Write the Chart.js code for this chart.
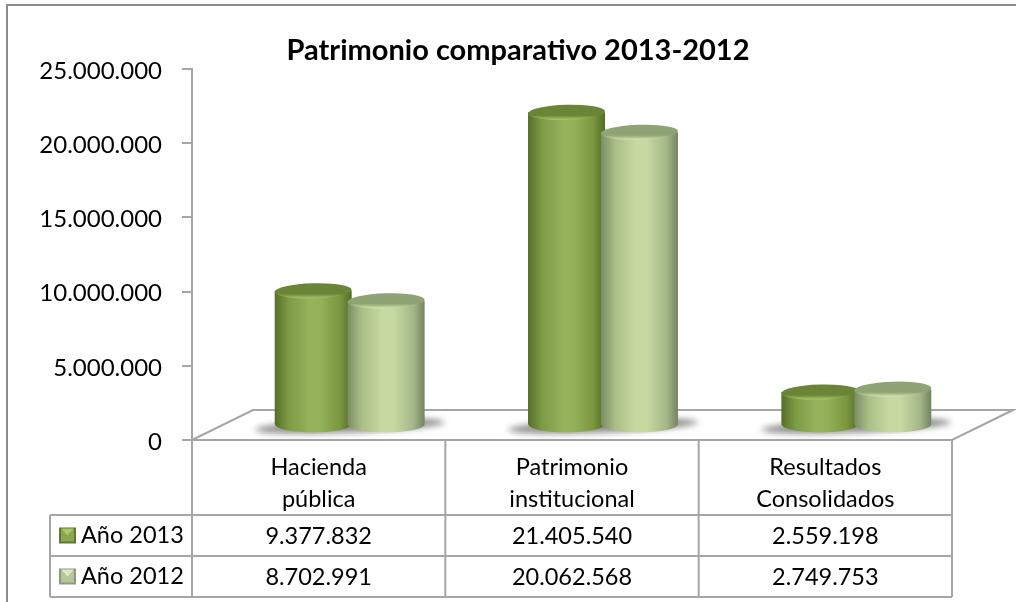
<!DOCTYPE html>
<html><head><meta charset="utf-8">
<style>html,body{margin:0;padding:0;background:#fff}#w{width:1016px;height:602px}canvas{display:block}</style>
<script src="https://cdn.jsdelivr.net/npm/chart.js@4"></script>
</head><body><div id="w"><canvas id="c" width="1016" height="602"></canvas></div>
<script>
const titleText = 'Patrimonio comparativo 2013-2012';
const categoryLines = [['Hacienda','pública'],['Patrimonio','institucional'],['Resultados','Consolidados']];
const seriesNames = ['Año 2013','Año 2012'];
const values2013 = [9377832,21405540,2559198];
const values2012 = [8702991,20062568,2749753];
const tickStep = 5000000;
const axisMax = 25000000;

const FONT='Lato, Carlito, Calibri, sans-serif';
const LINE='#a6a6a6';
const DEPTH_X=31, DEPTH_Y=-10, DEPTH_FLOOR_X=61, DEPTH_FLOOR_Y=-30, RY=7.5, BASE_LIFT=5;
const PAL=[
 {stops:['#556e28','#7d9a45','#94b35a','#92b158','#7a963f','#546d27'],top:'#6a8535',lip:'#a9c86a',
  key:['#8aa650','#5f7a2e','#a9c86a']},
 {stops:['#7b8d63','#a9bd86','#c6d9a0','#c6d9a0','#a5b78a','#738460'],top:'#8fa474',lip:'#d4e5ae',
  key:['#b5c79a','#8d9c78','#dbe8c4']}
];
const STOP_AT=[0,.18,.45,.6,.85,1];
const fmt=v=>String(v).replace(/\B(?=(\d{3})+$)/g,'.');

class CylinderElement extends Chart.BarElement{
  draw(ctx){
    const p=PAL[this.$series||0];
    const cx=this.x+DEPTH_X, hw=this.width/2, top=this.y+DEPTH_Y, bot=this.base+DEPTH_Y-BASE_LIFT;
    const g=ctx.createLinearGradient(cx-hw,0,cx+hw,0);
    p.stops.forEach((c,i)=>g.addColorStop(STOP_AT[i],c));
    ctx.save();
    ctx.fillStyle=g;
    ctx.beginPath();
    ctx.moveTo(cx-hw,top);
    ctx.lineTo(cx-hw,bot);
    ctx.ellipse(cx,bot,hw,RY+1,0,Math.PI,0,true);
    ctx.lineTo(cx+hw,top);
    ctx.closePath();
    ctx.fill();
    const lip=ctx.createLinearGradient(0,top-RY,0,top+RY);
    lip.addColorStop(0,p.top);lip.addColorStop(.7,p.top);lip.addColorStop(1,p.lip);
    ctx.fillStyle=lip;
    ctx.beginPath();
    ctx.ellipse(cx,top,hw,RY,-0.03,0,Math.PI*2);
    ctx.fill();
    ctx.restore();
  }
}
CylinderElement.id='cylinder';
CylinderElement.defaults=Chart.BarElement.defaults;
class CylinderController extends Chart.BarController{}
CylinderController.id='cylinder';
CylinderController.defaults=Object.assign({},Chart.BarController.defaults,{dataElementType:'cylinder'});
CylinderController.overrides=Chart.BarController.overrides;
Chart.register(CylinderElement,CylinderController);

const scene={
  id:'scene',
  afterLayout(chart){chart.scales.y.left=0;},
  beforeDatasetsDraw(chart){
    const {ctx,chartArea:a,scales:{y}}=chart;
    const y0=y.getPixelForValue(0);
    ctx.save();
    ctx.strokeStyle=LINE;ctx.lineWidth=2;ctx.lineJoin='miter';
    ctx.beginPath();
    ctx.moveTo(a.left,y0);
    ctx.lineTo(a.left+DEPTH_FLOOR_X,y0+DEPTH_FLOOR_Y);
    ctx.lineTo(a.right+DEPTH_FLOOR_X,y0+DEPTH_FLOOR_Y);
    ctx.lineTo(a.right,y0);
    ctx.closePath();
    ctx.stroke();
    chart.data.datasets.forEach((d,i)=>{
      chart.getDatasetMeta(i).data.forEach(el=>{el.$series=i;});
    });
    const m0=chart.getDatasetMeta(0).data;
    const m1=chart.getDatasetMeta(1).data;
    m0.forEach((el,k)=>{
      const l=el.x+DEPTH_X-el.width/2, r=m1[k].x+DEPTH_X+m1[k].width/2;
      ctx.save();
      ctx.filter='blur(3px)';
      ctx.fillStyle='#8c8c8c';
      ctx.beginPath();
      ctx.ellipse((l+r)/2,el.base+DEPTH_Y-3,(r-l)/2+20,6.5,-0.04,0,Math.PI*2);
      ctx.fill();
      ctx.restore();
    });
    ctx.restore();
    m0.forEach(e=>e.draw(ctx));
    m1.forEach(e=>e.draw(ctx));
    return false;
  },
  afterDraw(chart){
    const {ctx,chartArea:a,scales:{x,y}}=chart;
    const y0=y.getPixelForValue(0);
    const rows=[515,556,597], tableLeft=50;
    const cols=[a.left,(x.getPixelForValue(0)+x.getPixelForValue(1))/2,(x.getPixelForValue(1)+x.getPixelForValue(2))/2,a.right];
    ctx.save();
    ctx.strokeStyle='#8c8c8c';ctx.lineWidth=2;
    ctx.strokeRect(7,5,1020,640);
    ctx.strokeStyle=LINE;ctx.lineWidth=2;
    ctx.beginPath();
    cols.forEach(t=>{ctx.moveTo(t,y0);ctx.lineTo(t,rows[2]);});
    rows.forEach(r=>{ctx.moveTo(tableLeft,r);ctx.lineTo(a.right,r);});
    ctx.moveTo(tableLeft,rows[0]);ctx.lineTo(tableLeft,rows[2]);
    ctx.stroke();
    ctx.fillStyle='#000';ctx.textAlign='center';ctx.textBaseline='middle';
    ctx.font='23.5px '+FONT;
    categoryLines.forEach((ls,i)=>{
      const cx=x.getPixelForValue(i);
      ls.forEach((t,j)=>ctx.fillText(t,cx,467+j*32));
    });
    [values2013,values2012].forEach((vals,s)=>{
      const cy=(rows[s]+rows[s+1])/2;
      vals.forEach((v,i)=>ctx.fillText(fmt(v),x.getPixelForValue(i),cy+1));
      const k=PAL[s].key, kx=59, ky=cy-8, kw=17, kh=16;
      ctx.fillStyle=k[1];ctx.fillRect(kx,ky,kw,kh);
      ctx.fillStyle=k[0];ctx.fillRect(kx+2,ky+2,kw-4,kh-4);
      ctx.fillStyle=k[2];
      ctx.beginPath();ctx.moveTo(kx+2,ky+1);ctx.lineTo(kx+kw-2,ky+1);ctx.lineTo(kx+kw/2,ky+8);ctx.closePath();ctx.fill();
      ctx.fillStyle='#000';ctx.textAlign='left';
      ctx.fillText(seriesNames[s],81,cy);
      ctx.textAlign='center';
    });
    ctx.restore();
  }
};

new Chart(document.getElementById('c'),{
  type:'cylinder',
  data:{
    labels:categoryLines,
    datasets:[
      {label:seriesNames[0],data:values2013,backgroundColor:PAL[0].stops[2]},
      {label:seriesNames[1],data:values2012,backgroundColor:PAL[1].stops[2]}
    ]
  },
  options:{
    responsive:false,animation:false,
    layout:{padding:{left:84,right:64,top:0,bottom:162}},
    datasets:{cylinder:{categoryPercentage:.576,barPercentage:1.055}},
    plugins:{
      legend:{display:false},tooltip:{enabled:false},
      title:{display:true,text:titleText,color:'#000',font:{family:FONT,size:29,weight:'bold',lineHeight:1.2},padding:{top:33,bottom:1.2}}
    },
    scales:{
      x:{type:'category',display:false},
      y:{min:0,max:axisMax,
        afterFit(s){s.width=108;s.paddingTop=0;s.paddingBottom=0;s.paddingLeft=0;s.paddingRight=0;},
        ticks:{stepSize:tickStep,color:'#000',padding:20,labelOffset:2,font:{family:FONT,size:24},callback:v=>fmt(v)},
        grid:{display:true,drawOnChartArea:false,drawTicks:true,tickLength:10,color:LINE,lineWidth:2},
        border:{display:true,color:LINE,width:2}}
    }
  },
  plugins:[scene]
});
</script></body></html>
